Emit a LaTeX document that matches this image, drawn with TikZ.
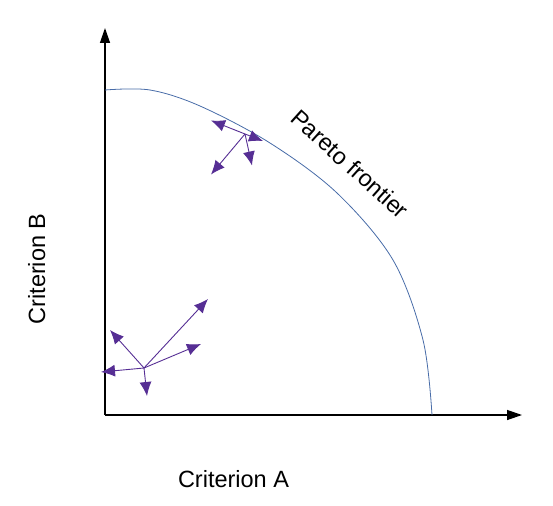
\documentclass[tikz,border=0pt]{standalone}
\usepackage{fontspec}
\setmainfont{Liberation Sans}
\usepackage{tikz}
\usetikzlibrary{arrows.meta}
\definecolor{prefcol}{RGB}{86,46,148}
\definecolor{frontcol}{RGB}{72,108,168}

\begin{document}
\begin{tikzpicture}[
  x=1pt, y=-1pt,
  font=\fontsize{23.5}{28}\selectfont,
  axis/.style={line width=1.3pt, -{Triangle[length=15pt, width=10pt]}},
  pref/.style={line width=0.9pt, prefcol, -{Latex[length=14pt, width=12pt]}},
  front/.style={line width=0.8pt, frontcol},
  lbl/.style={inner sep=0pt},
]
\useasboundingbox (0,0) rectangle (553,505);
% --- axes ---
\coordinate (O) at (105,415);
\coordinate (ytip) at (105,28);
\coordinate (xtip) at (522,415);
\draw[axis] (O) -- (ytip);
\draw[axis] (O) -- (xtip);
\node[lbl, anchor=base] (critA) at (233.5,487) {Criterion A};
\node[lbl, anchor=base, rotate=90] (critB) at (45,269) {Criterion B};
% --- frontier ---
\draw[front] plot[smooth, tension=0.55] coordinates {
  (105,90) (150,90) (200,106) (270,143) (337,193) (393,260) (423,340) (432,415)};
\node[lbl, rotate=-42] (pareto) at (350,164) {Pareto frontier};
% --- preference arrows, interior point ---
\coordinate (lo) at (144,368);
\coordinate (lo1) at (208,299);
\coordinate (lo2) at (201,344);
\coordinate (lo3) at (110,330);
\coordinate (lo4) at (101,372);
\coordinate (lo5) at (147,396);
\foreach \t in {lo1,lo2,lo3,lo4,lo5} \draw[pref] (lo) -- (\t);
% --- preference arrows, point on the frontier ---
\coordinate (hi) at (245,134);
\coordinate (hi1) at (211,120.5);
\coordinate (hi2) at (263,141);
\coordinate (hi3) at (252,165.5);
\coordinate (hi4) at (211,174.5);
\foreach \t in {hi1,hi2,hi3,hi4} \draw[pref] (hi) -- (\t);
\end{tikzpicture}
\end{document}
